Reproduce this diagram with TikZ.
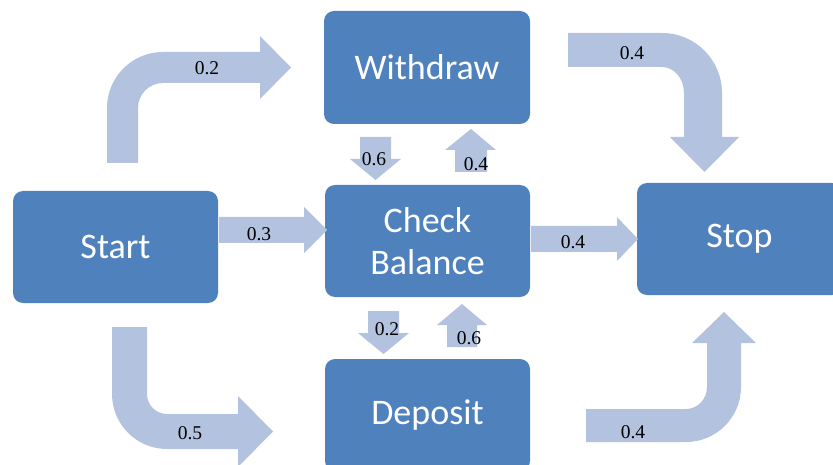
\documentclass[tikz,border=0pt]{standalone}
\usepackage{fontspec}
\newfontfamily\boxfont{Carlito}
\newfontfamily\labfont{Liberation Serif}
\definecolor{boxblue}{HTML}{4F81BD}
\definecolor{arrowblue}{HTML}{B3C2DE}
\begin{document}
\begin{tikzpicture}[x=1pt,y=-1pt,
  statebox/.style={draw=none,fill=boxblue,rounded corners=10pt,inner sep=0pt,
    minimum width=205pt,minimum height=112pt,text=white,align=center,
    font=\boxfont\fontsize{36}{42}\selectfont},
  barrow/.style={fill=arrowblue,draw=none},
  prob/.style={inner sep=0pt,font=\labfont\fontsize{19.5}{20}\selectfont,text=black}]
\useasboundingbox (0,0) rectangle (833,465);
\clip (0,0) rectangle (833,465);
% boxes
\node[statebox] (start) at (115.5,247) {Start};
\node[statebox,minimum width=206pt,minimum height=113pt] (withdraw) at (427,67.5) {Withdraw};
\node[statebox] (check) at (427.5,241) {Check\\Balance};
\node[statebox] (stop) at (739.5,239) {Stop};
\node[statebox] (deposit) at (427.5,415) {Deposit};
% straight block arrows
\fill[barrow] (360,137) -- (391,137) -- (391,159) -- (401,159) -- (375.5,180) -- (350,159) -- (360,159) -- cycle;
\fill[barrow] (455,172) -- (487,172) -- (487,150) -- (496,150) -- (471,129) -- (445,150) -- (455,150) -- cycle;
\fill[barrow] (219,217) -- (304,217) -- (304,207) -- (327,230) -- (304,253) -- (304,243) -- (219,243) -- cycle;
\fill[barrow] (531,226) -- (617,226) -- (617,217) -- (638,239) -- (617,261) -- (617,252) -- (531,252) -- cycle;
\fill[barrow] (368,311) -- (399,311) -- (399,333) -- (409,333) -- (383.5,354) -- (358,333) -- (368,333) -- cycle;
\fill[barrow] (447,347) -- (477,347) -- (477,325) -- (487,325) -- (462,304) -- (437,325) -- (447,325) -- cycle;
% bent block arrows
\fill[barrow] (107,163) -- (107,108) arc[start angle=180,end angle=270,radius=56] -- (260,52) -- (260,36) -- (291,67.5) -- (260,99) -- (260,83) -- (163,83) arc[start angle=270,end angle=180,radius=25] -- (138,163) -- cycle;
\fill[barrow] (568,33) -- (662,33) arc[start angle=270,end angle=360,radius=60] -- (722,137) -- (739,137) -- (704.5,172) -- (670,137) -- (684,137) -- (684,93) arc[start angle=0,end angle=-90,x radius=22,y radius=26] -- (568,67) -- cycle;
\fill[barrow] (112,327) -- (147,327) -- (147,394) arc[start angle=180,end angle=90,radius=20] -- (238,414) -- (238,396) -- (273,431.5) -- (238,467) -- (238,449) -- (167,449) arc[start angle=90,end angle=180,radius=55] -- cycle;
\fill[barrow] (586,409) -- (686,409) arc[start angle=90,end angle=0,x radius=21,y radius=22] -- (707,343) -- (692,343) -- (724,312) -- (756,343) -- (741,343) -- (741,387) arc[start angle=0,end angle=90,radius=55] -- (586,442) -- cycle;
% probabilities
\node[prob] (p1) at (207,68) {0.2};
\node[prob] (p2) at (632,53) {0.4};
\node[prob] (p3) at (190,433) {0.5};
\node[prob] (p4) at (633,432) {0.4};
\node[prob] (p5) at (374,159) {0.6};
\node[prob] (p6) at (476,164) {0.4};
\node[prob] (p7) at (259,234) {0.3};
\node[prob] (p8) at (573,242) {0.4};
\node[prob] (p9) at (387,329) {0.2};
\node[prob] (p10) at (469,338) {0.6};
\end{tikzpicture}
\end{document}
